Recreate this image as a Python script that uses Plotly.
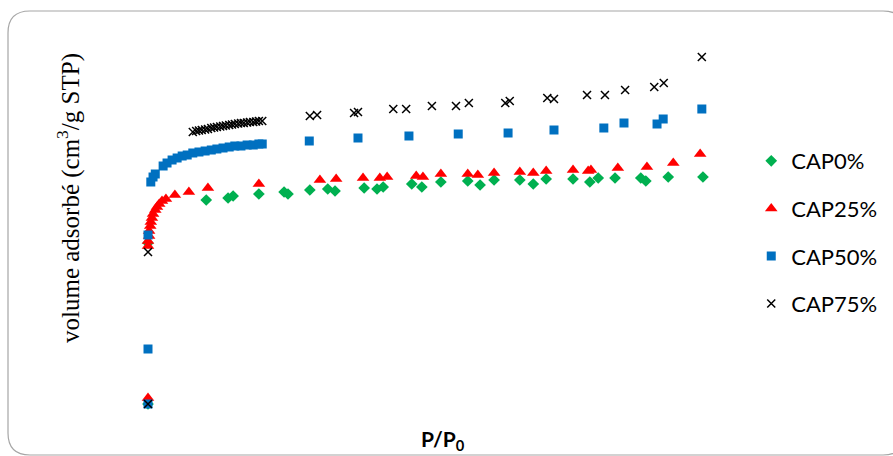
import plotly.graph_objects as go

# Nitrogen adsorption isotherms (relative pressure P/P0 vs adsorbed volume)
cap0_p = [0.000, 0.000, 0.104, 0.143, 0.152, 0.198, 0.243, 0.250, 0.289, 0.321,
          0.334, 0.386, 0.409, 0.420, 0.471, 0.489, 0.523, 0.571, 0.593, 0.618,
          0.664, 0.688, 0.711, 0.759, 0.789, 0.804, 0.834, 0.880, 0.889, 0.929,
          0.991]
cap0_v = [0, 161, 204, 206, 208, 210, 212, 210, 214, 215,
          213, 216, 215, 217, 220, 217, 222, 223, 219, 224,
          224, 220, 225, 225, 222, 226, 226, 226, 223, 227,
          227]

cap25_p = [0.000, 0.000, 0.000, 0.002, 0.002, 0.004, 0.005, 0.007, 0.009, 0.013,
           0.016, 0.020, 0.025, 0.032, 0.048, 0.073, 0.107, 0.198, 0.307, 0.336,
           0.384, 0.414, 0.427, 0.479, 0.491, 0.523, 0.571, 0.589, 0.618, 0.664,
           0.688, 0.711, 0.759, 0.786, 0.791, 0.839, 0.891, 0.938, 0.986]
cap25_v = [6, 158, 163, 168, 173, 178, 182, 186, 190, 194,
           197, 200, 203, 205, 209, 212, 216, 220, 224, 225,
           226, 226, 227, 228, 227, 230, 230, 229, 231, 232,
           231, 233, 234, 233, 234, 236, 237, 241, 250]

cap50_p = [0.000, 0.000, 0.000, 0.005, 0.009, 0.013, 0.027, 0.034, 0.043, 0.052,
           0.061, 0.070, 0.080, 0.091, 0.102, 0.113, 0.123, 0.134, 0.145, 0.155,
           0.166, 0.177, 0.188, 0.198, 0.204, 0.288, 0.375, 0.466, 0.554, 0.643,
           0.725, 0.814, 0.850, 0.909, 0.920, 0.989]
cap50_v = [0, 55, 169, 222, 227, 230, 238, 241, 244, 246,
           248, 249, 251, 252, 253, 254, 255, 256, 257, 258,
           258, 259, 259, 260, 260, 263, 266, 268, 270, 271,
           274, 276, 281, 280, 285, 295]

cap75_p = [0.000, 0.000, 0.080, 0.086, 0.091, 0.096, 0.102, 0.107, 0.113, 0.118,
           0.123, 0.129, 0.134, 0.139, 0.145, 0.150, 0.155, 0.161, 0.166, 0.171,
           0.177, 0.182, 0.188, 0.193, 0.198, 0.204, 0.289, 0.302, 0.368, 0.375,
           0.438, 0.461, 0.507, 0.550, 0.573, 0.638, 0.646, 0.713, 0.725, 0.784,
           0.816, 0.852, 0.904, 0.921, 0.989]
cap75_v = [0, 152, 272, 273, 273.5, 274, 274.5, 275, 276, 276.5,
           277, 277.5, 278, 278.5, 279, 279.5, 280, 280.5, 281, 281,
           281.5, 282, 282, 282.5, 283, 283, 288, 289, 291, 292,
           295, 295, 298, 298, 301, 301, 303, 306, 305, 309,
           309, 314, 317, 321, 347]

series = [
    ("CAP0%", cap0_p, cap0_v, dict(symbol="diamond", size=9, color="#00b050")),
    ("CAP25%", cap25_p, cap25_v, dict(symbol="triangle-up", size=11, color="#ff0000")),
    ("CAP50%", cap50_p, cap50_v, dict(symbol="square", size=9, color="#0070c0")),
    ("CAP75%", cap75_p, cap75_v, dict(symbol="x-thin", size=8, color="#000000",
                                      line=dict(width=1.5, color="#000000"))),
]

W, H = 893, 456
L, R, T, B = 120, 148, 30, 36

fig = go.Figure()
for i, (name, p, v, mk) in enumerate(series):
    fig.add_trace(go.Scatter(
        x=p, y=v, mode="markers", name=name, marker=mk,
        legendgroup=f"g{i}",
    ))


def px_to_paper(px, py):
    return (px - L) / (W - L - R), (H - B - py) / (H - T - B)


# rounded frame around the chart
x0, y0, x1, y1, rad = 8, 11, 905, 455, 22
pts = {
    "a": px_to_paper(x0 + rad, y0), "b": px_to_paper(x1 - rad, y0),
    "c": px_to_paper(x1, y0), "d": px_to_paper(x1, y0 + rad),
    "e": px_to_paper(x1, y1 - rad), "f": px_to_paper(x1, y1),
    "g": px_to_paper(x1 - rad, y1), "h": px_to_paper(x0 + rad, y1),
    "i": px_to_paper(x0, y1), "j": px_to_paper(x0, y1 - rad),
    "k": px_to_paper(x0, y0 + rad), "l": px_to_paper(x0, y0),
}
fmt = lambda k: f"{pts[k][0]:.5f},{pts[k][1]:.5f}"
path = (f"M {fmt('a')} L {fmt('b')} Q {fmt('c')} {fmt('d')} L {fmt('e')} "
        f"Q {fmt('f')} {fmt('g')} L {fmt('h')} Q {fmt('i')} {fmt('j')} "
        f"L {fmt('k')} Q {fmt('l')} {fmt('a')} Z")
fig.add_shape(type="path", path=path, xref="paper", yref="paper",
              line=dict(color="#a6a6a6", width=1.2), layer="below")

fig.update_layout(
    width=W, height=H,
    margin=dict(l=L, r=R, t=T, b=B, autoexpand=False),
    paper_bgcolor="white", plot_bgcolor="white",
    showlegend=True,
    legend=dict(
        x=1.01, xanchor="left", y=0.718, yanchor="top",
        font=dict(family="Lato, Open Sans, sans-serif", size=22, color="#000000"),
        tracegroupgap=16, itemwidth=30, bgcolor="rgba(0,0,0,0)",
    ),
    xaxis=dict(range=[-0.05, 1.0661], showgrid=False, zeroline=False,
               showticklabels=False, showline=False, ticks=""),
    yaxis=dict(range=[-16, 374], showgrid=False, zeroline=False,
               showticklabels=False, showline=False, ticks=""),
)

fig.add_annotation(
    text="volume adsorbé (cm<sup>3</sup>/g STP)", textangle=-90,
    xref="paper", yref="paper",
    x=px_to_paper(68, 0)[0], y=px_to_paper(0, 198)[1],
    showarrow=False, xanchor="center", yanchor="middle",
    font=dict(family="Liberation Serif, Times New Roman, serif", size=25, color="#000000"),
)
fig.add_annotation(
    text="<b>P/P<sub>0</sub></b>",
    xref="paper", yref="paper",
    x=px_to_paper(443, 0)[0], y=px_to_paper(0, 440)[1],
    showarrow=False, xanchor="center", yanchor="middle",
    font=dict(family="Lato, Open Sans, sans-serif", size=21, color="#000000"),
)

fig.write_html("out.html")
